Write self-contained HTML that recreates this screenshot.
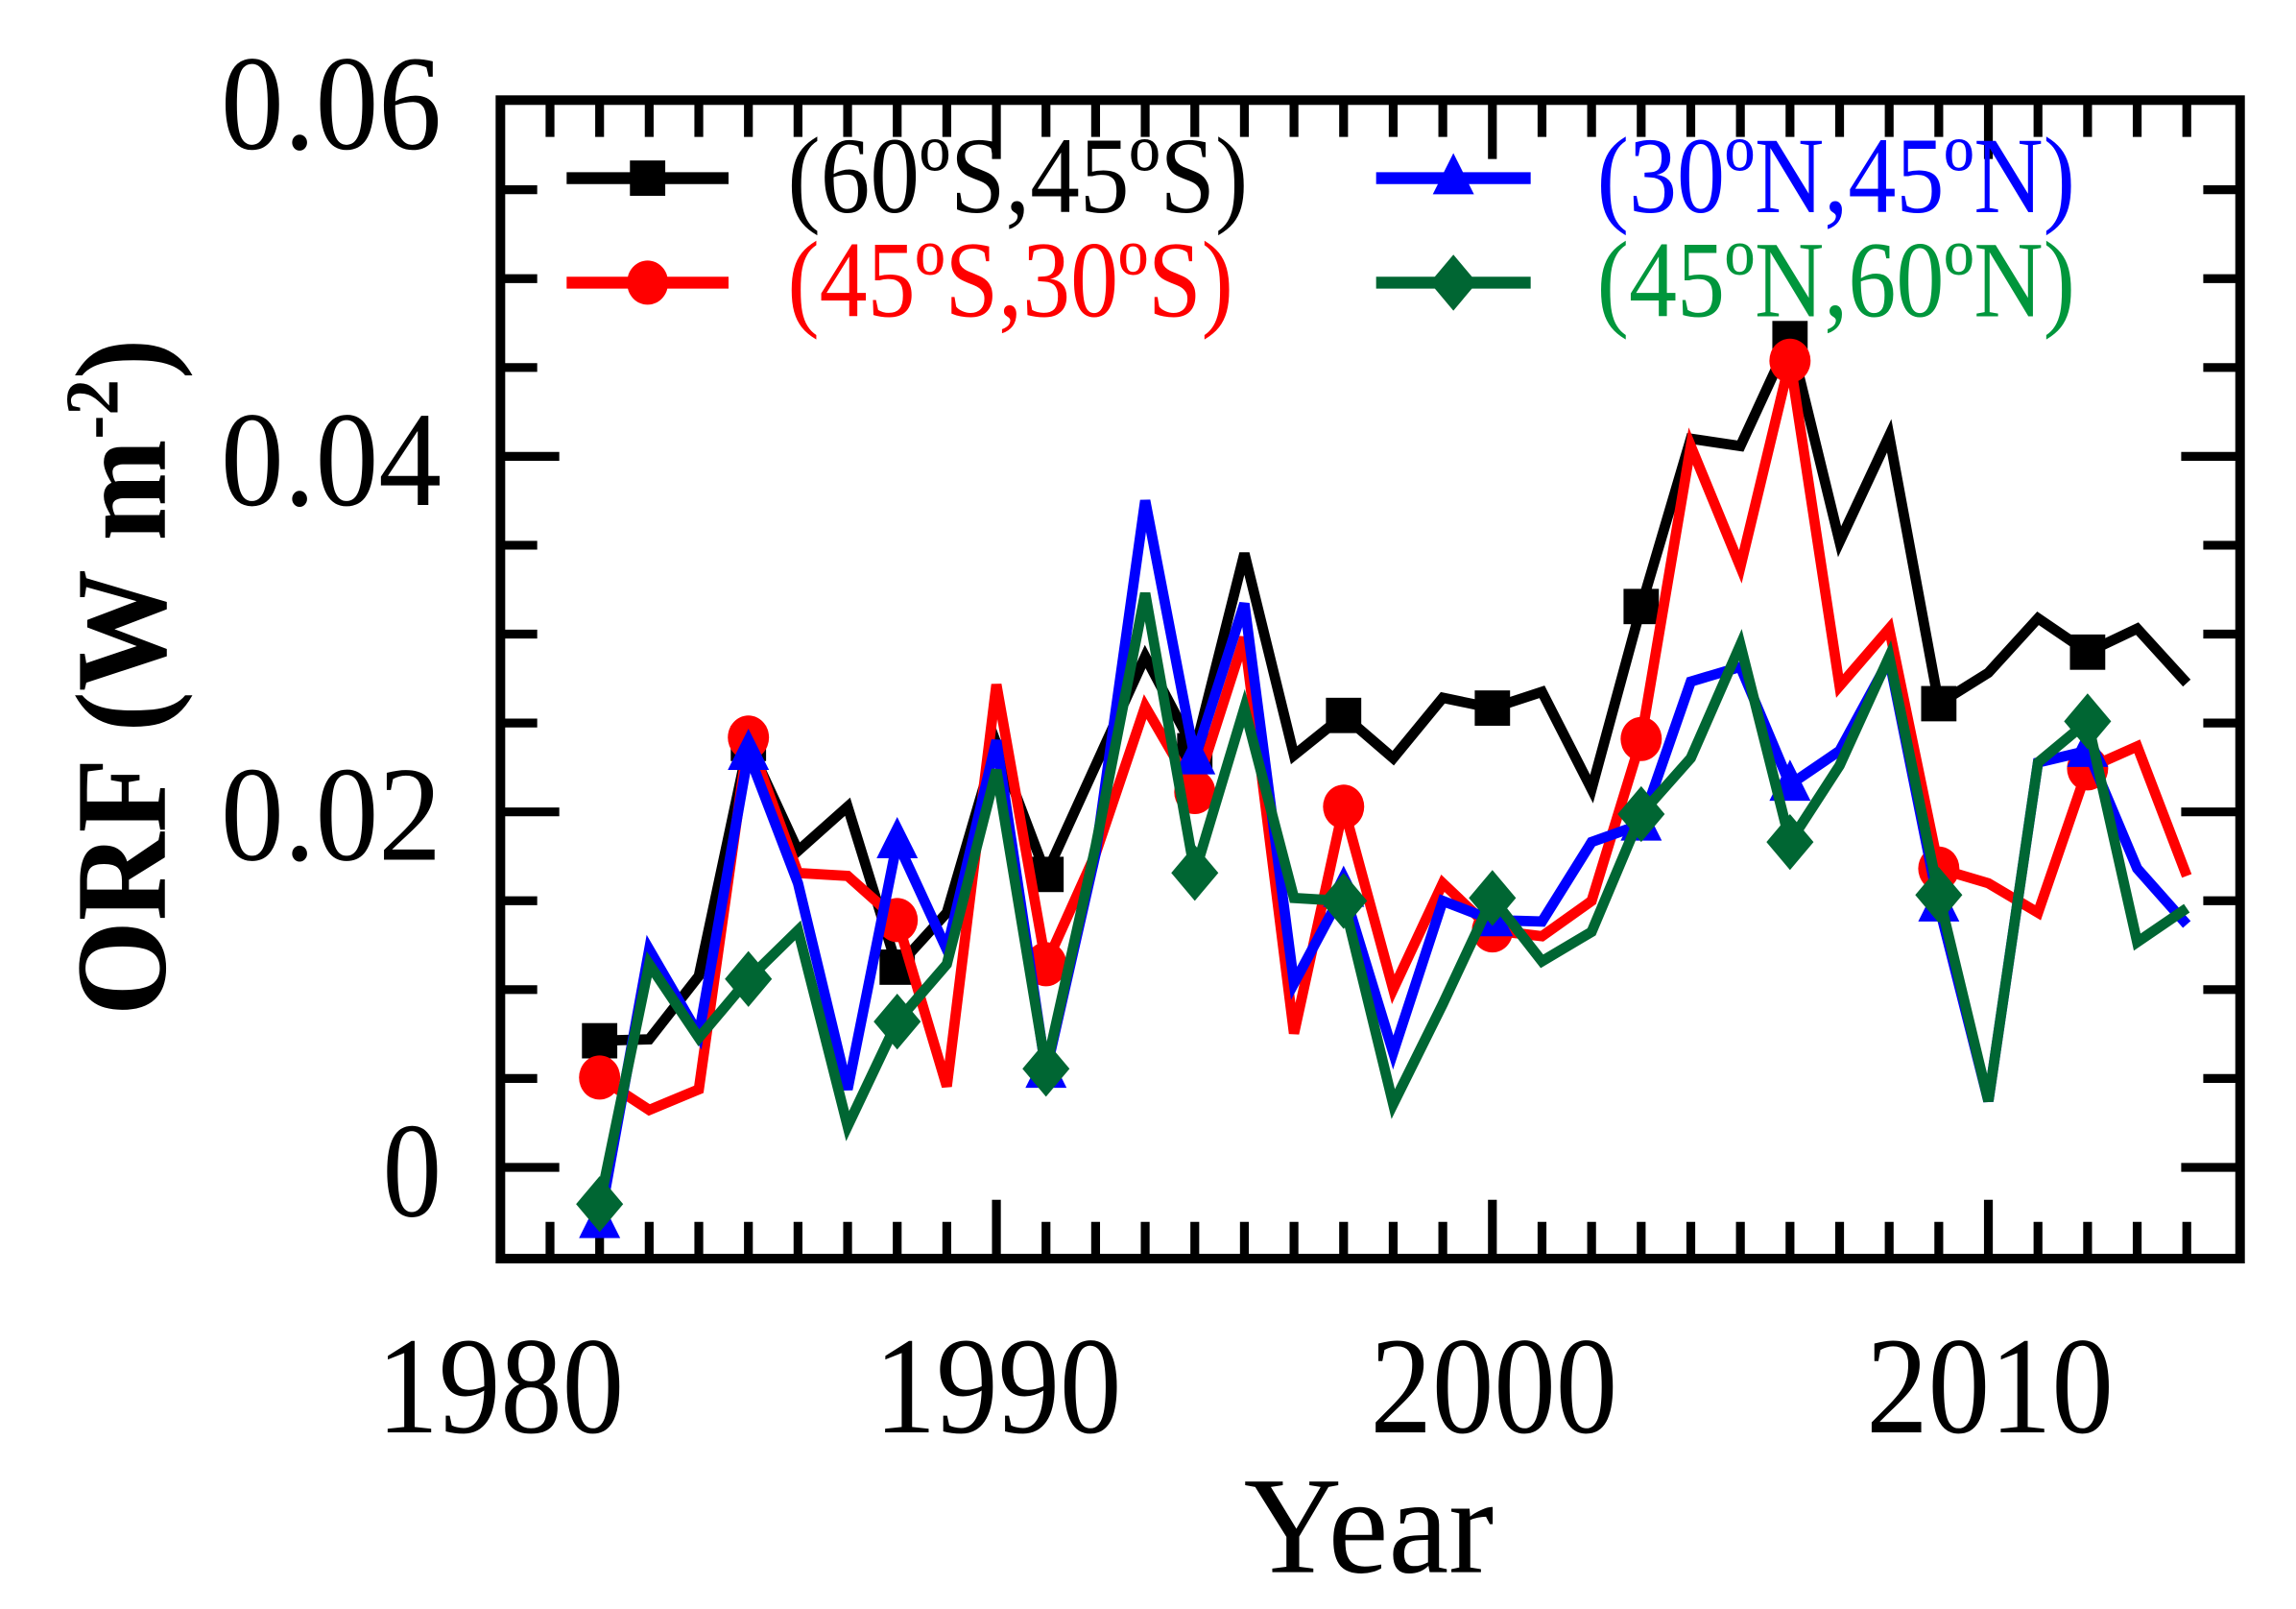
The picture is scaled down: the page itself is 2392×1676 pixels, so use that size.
<!DOCTYPE html>
<html><head><meta charset="utf-8">
<style>html,body{margin:0;padding:0;background:#fff}svg{display:block}text{font-family:"Liberation Serif",serif}</style>
</head><body>
<svg id="s" width="2392" height="1676" viewBox="0 0 1560 1093" xmlns="http://www.w3.org/2000/svg">
<rect width="1560" height="1093" fill="#fff"/>
<g id="ticks" stroke="#000" stroke-width="6"></g>
<g id="series"></g>
<rect x="340" y="68" width="1182" height="787" fill="none" stroke="#000" stroke-width="6.5"/>
<g font-size="92" text-anchor="end">
<text x="300" y="101" textLength="150" lengthAdjust="spacingAndGlyphs">0.06</text>
<text x="300" y="343" textLength="150" lengthAdjust="spacingAndGlyphs">0.04</text>
<text x="300" y="584" textLength="150" lengthAdjust="spacingAndGlyphs">0.02</text>
<text x="300" y="826" textLength="40" lengthAdjust="spacingAndGlyphs">0</text>
</g>
<g font-size="94" text-anchor="middle">
<text x="340" y="973" textLength="168" lengthAdjust="spacingAndGlyphs">1980</text>
<text x="678" y="973" textLength="168" lengthAdjust="spacingAndGlyphs">1990</text>
<text x="1015" y="973" textLength="168" lengthAdjust="spacingAndGlyphs">2000</text>
<text x="1352" y="973" textLength="168" lengthAdjust="spacingAndGlyphs">2010</text>
<text x="930" y="1068" textLength="170" lengthAdjust="spacingAndGlyphs">Year</text>
</g>
<text transform="translate(112,460) rotate(-90)" font-size="88" text-anchor="middle" font-weight="bold" textLength="460" lengthAdjust="spacingAndGlyphs">ORF (W m<tspan dy="-32" font-size="52">-2</tspan><tspan dy="32">)</tspan></text>
<g font-size="74">
<text x="535" y="144" fill="#000" textLength="313" lengthAdjust="spacingAndGlyphs">(60ºS,45ºS)</text>
<text x="535" y="215" fill="#ff0000" textLength="303" lengthAdjust="spacingAndGlyphs">(45ºS,30ºS)</text>
<text x="1085" y="144" fill="#0000ff" textLength="325" lengthAdjust="spacingAndGlyphs">(30ºN,45ºN)</text>
<text x="1085" y="215" fill="#00963c" textLength="325" lengthAdjust="spacingAndGlyphs">(45ºN,60ºN)</text>
</g>
<g id="legend"></g>
</svg>
<script>
var NS="http://www.w3.org/2000/svg";
function el(p,t,a){var e=document.createElementNS(NS,t);for(var k in a)e.setAttribute(k,a[k]);p.appendChild(e);return e;}
var T=document.getElementById('ticks');
function X(y){return 340+(y-1980)*33.7;}
for(var y=1981;y<=2014;y++){var big=(y%10==0);var L=big?40:25;var x=X(y);
 el(T,'line',{x1:x,y1:855,x2:x,y2:855-L});el(T,'line',{x1:x,y1:68,x2:x,y2:68+L});}
for(var v=0;v<=12;v++){var yy=793-v*60.375;if(yy<70)continue;var big=(v%4==0);var L=big?40:25;
 el(T,'line',{x1:340,y1:yy,x2:340+L,y2:yy});el(T,'line',{x1:1522,y1:yy,x2:1522-L,y2:yy});}
var data={
k:[707,706,663,505,578,548,657,620,505,594,520,446,510,376,513,486,515,474,481,470,536,412,298,303,230,368,296,478,457,420,443,427,464],
r:[732,754,740,501,593,595,625,738,465,655,580,480,538,433,702,548,672,600,632,636,612,502,303,385,245,466,427,590,600,620,522,507,595],
b:[830,645,703,512,600,740,572,645,503,728,580,340,515,410,668,605,715,612,625,626,572,560,463,453,533,510,448,615,748,518,510,590,628],
g:[818,655,705,665,632,765,694,655,523,726,575,403,593,481,610,612,750,682,610,653,633,553,515,438,572,520,446,608,748,518,490,640,617]};
var col={k:'#000',r:'#ff0000',b:'#0000ff',g:'#006633'};
var S=document.getElementById('series');
function marker(p,s,x,y){var c=col[s];
 if(s=='k')el(p,'rect',{x:x-12,y:y-12,width:24,height:24,fill:c});
 if(s=='r')el(p,'ellipse',{cx:x,cy:y,rx:14,ry:15,fill:c});
 if(s=='b')el(p,'path',{d:'M'+x+','+(y-17)+'L'+(x+14)+','+(y+11)+'L'+(x-14)+','+(y+11)+'Z',fill:c});
 if(s=='g')el(p,'path',{d:'M'+x+','+(y-19)+'L'+(x+16)+','+y+'L'+x+','+(y+19)+'L'+(x-16)+','+y+'Z',fill:c});}
['k','r','b','g'].forEach(function(s){var d='';data[s].forEach(function(v,i){d+=(i?'L':'M')+X(1982+i).toFixed(1)+','+v;});
 el(S,'path',{d:d,fill:'none',stroke:col[s],'stroke-width':7,'stroke-linejoin':'miter'});
 data[s].forEach(function(v,i){if(i%3==0)marker(S,s,X(1982+i),v);});});
var Lg=document.getElementById('legend');
[['k',385,495,121],['r',385,495,192],['b',935,1040,121],['g',935,1040,192]].forEach(function(a){
 el(Lg,'line',{x1:a[1],y1:a[3],x2:a[2],y2:a[3],stroke:col[a[0]],'stroke-width':8});marker(Lg,a[0],(a[1]+a[2])/2,a[3]);});
</script>
</body></html>
